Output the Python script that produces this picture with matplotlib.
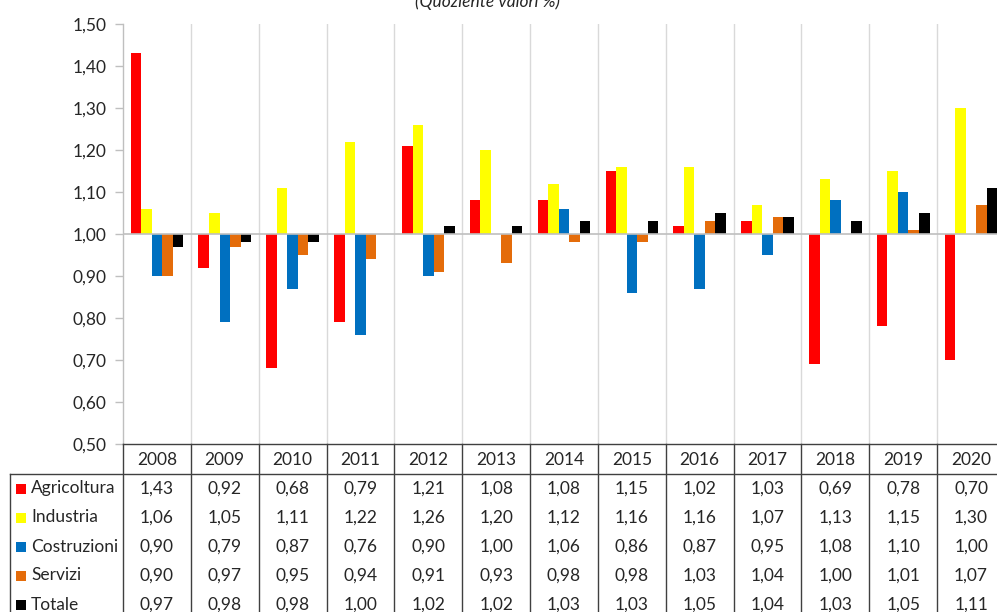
import matplotlib
matplotlib.use("Agg")
import matplotlib.pyplot as plt
from matplotlib.patches import Rectangle
from matplotlib.lines import Line2D

plt.rcParams['font.family'] = ['Lato', 'DejaVu Sans']

years = ["2008", "2009", "2010", "2011", "2012", "2013", "2014",
         "2015", "2016", "2017", "2018", "2019", "2020"]
series_names = ["Agricoltura", "Industria", "Costruzioni", "Servizi", "Totale"]
agricoltura = [1.43, 0.92, 0.68, 0.79, 1.21, 1.08, 1.08, 1.15, 1.02, 1.03, 0.69, 0.78, 0.70]
industria = [1.06, 1.05, 1.11, 1.22, 1.26, 1.20, 1.12, 1.16, 1.16, 1.07, 1.13, 1.15, 1.30]
costruzioni = [0.90, 0.79, 0.87, 0.76, 0.90, 1.00, 1.06, 0.86, 0.87, 0.95, 1.08, 1.10, 1.00]
servizi = [0.90, 0.97, 0.95, 0.94, 0.91, 0.93, 0.98, 0.98, 1.03, 1.04, 1.00, 1.01, 1.07]
totale = [0.97, 0.98, 0.98, 1.00, 1.02, 1.02, 1.03, 1.03, 1.05, 1.04, 1.03, 1.05, 1.11]
y_ticks = [0.50, 0.60, 0.70, 0.80, 0.90, 1.00, 1.10, 1.20, 1.30, 1.40, 1.50]
title = "(Quoziente valori %)"

series = [agricoltura, industria, costruzioni, servizi, totale]
colors = ["#FF0000", "#FFFF00", "#0070C0", "#E46C0A", "#000000"]

W, H = 997, 612
fig = plt.figure(figsize=(W / 100, H / 100), dpi=100)

# pixel geometry of the plot area
x0, x1 = 123, 1005
y_top, y_bot = 24, 444
cat_w = (x1 - x0) / len(years)

ax = fig.add_axes([x0 / W, 1 - y_bot / H, (x1 - x0) / W, (y_bot - y_top) / H])
ax.set_xlim(0, len(years))
ax.set_ylim(0.5, 1.5)

bar_w = 0.155
n = len(series)
for i, (vals, col) in enumerate(zip(series, colors)):
    xs = [k + 0.5 + (i - (n - 1) / 2) * bar_w for k in range(len(years))]
    ax.bar(xs, [v - 1.0 for v in vals], bottom=1.0, width=bar_w,
           color=col, edgecolor='none', zorder=3)

# vertical separators between years
for k in range(1, len(years) + 1):
    ax.axvline(k, color="#D9D9D9", lw=1.0, zorder=1)
ax.axhline(1.0, color="#BFBFBF", lw=1.2, zorder=4)

ax.set_yticks(y_ticks)
ax.set_yticklabels([f"{v:.2f}".replace(".", ",") for v in y_ticks], fontsize=12.5, color="#262626")
ax.tick_params(axis='y', length=6, width=1, color="#BFBFBF", pad=6)
ax.set_xticks([])
for s in ["top", "right", "bottom"]:
    ax.spines[s].set_visible(False)
ax.spines["left"].set_color("#BFBFBF")
ax.spines["left"].set_linewidth(1.0)

fig.text(487 / W, 1 - 7 / H, title, ha='center', va='baseline',
         fontsize=12.5, style='italic', color="#262626")

# data table under the plot
tx0 = 10
row_h = 29
header_bottom = 474
tab = fig.add_axes([0, 0, 1, 1])
tab.set_xlim(0, W)
tab.set_ylim(H, 0)
tab.axis('off')

line_col = "#404040"
# horizontal lines
tab.add_line(Line2D([x0, x1], [y_bot, y_bot], color=line_col, lw=1.0))
tab.add_line(Line2D([tx0, x1], [header_bottom, header_bottom], color=line_col, lw=1.0))
# vertical lines
tab.add_line(Line2D([tx0, tx0], [header_bottom, H + 20], color=line_col, lw=1.0))
for k in range(len(years) + 1):
    xv = x0 + k * cat_w
    tab.add_line(Line2D([xv, xv], [y_bot, H + 20], color=line_col, lw=1.0))

for k, yr in enumerate(years):
    tab.text(x0 + (k + 0.5) * cat_w, (y_bot + header_bottom) / 2 + 1, yr,
             ha='center', va='center', fontsize=12.5, color="#262626")

for r, (name, vals, col) in enumerate(zip(series_names, series, colors)):
    yc = header_bottom + (r + 0.5) * row_h
    tab.add_patch(Rectangle((16, yc - 5), 10, 10, facecolor=col, edgecolor='none'))
    tab.text(31, yc, name, ha='left', va='center', fontsize=12.5, color="#262626")
    for k, v in enumerate(vals):
        tab.text(x0 + (k + 0.5) * cat_w, yc, f"{v:.2f}".replace(".", ","),
                 ha='center', va='center', fontsize=12.5, color="#262626")

fig.savefig("out.png", dpi=100)
